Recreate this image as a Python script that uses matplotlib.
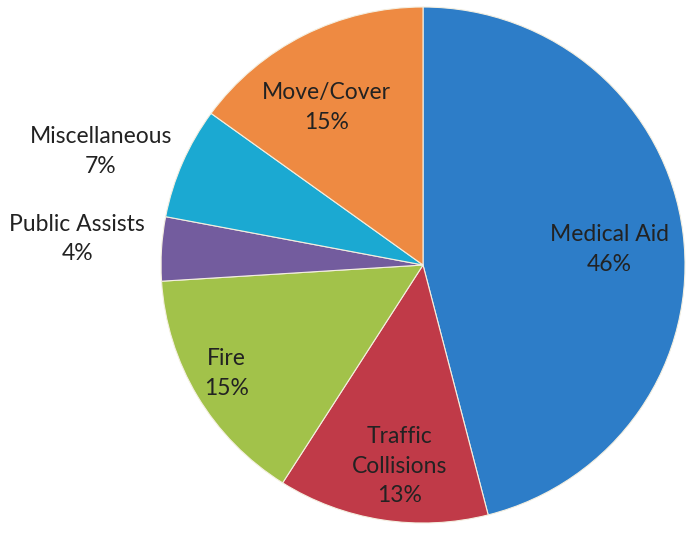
import numpy as np
import matplotlib.pyplot as plt

# call types and their share (%)
labels = ['Medical Aid', 'Traffic\nCollisions', 'Fire', 'Public Assists', 'Miscellaneous', 'Move/Cover']
shares = [46, 13, 15, 4, 7, 15]
colors = ['#2d7dc8', '#c03a48', '#a2c24a', '#735c9e', '#1ba9d2', '#ee8a42']
# where each label sits, in units of the pie radius
label_xy = [(0.71, 0.06), (-0.09, -0.78), (-0.75, -0.42),
            (-1.32, 0.10), (-1.23, 0.44), (-0.37, 0.61)]

plt.rcParams['font.family'] = ['Lato', 'DejaVu Sans']

fig = plt.figure(figsize=(6.87, 5.35), dpi=100)
ax = fig.add_axes([0.2344, 0.0224, 0.7627, 0.9645])

wedges, _ = ax.pie(shares, colors=colors, startangle=90, counterclock=False,
                   radius=1, wedgeprops=dict(edgecolor='#f4efe0', linewidth=0.8))

for lab, val, (x, y) in zip(labels, shares, label_xy):
    ax.text(x, y, f'{lab}\n{val}%', ha='center', va='center', fontsize=16.5,
            color='#222222', linespacing=1.5)

ax.set_xlim(-1, 1)
ax.set_ylim(-1, 1)
ax.set_aspect('auto')
ax.axis('off')

fig.savefig('out.png', dpi=100)
